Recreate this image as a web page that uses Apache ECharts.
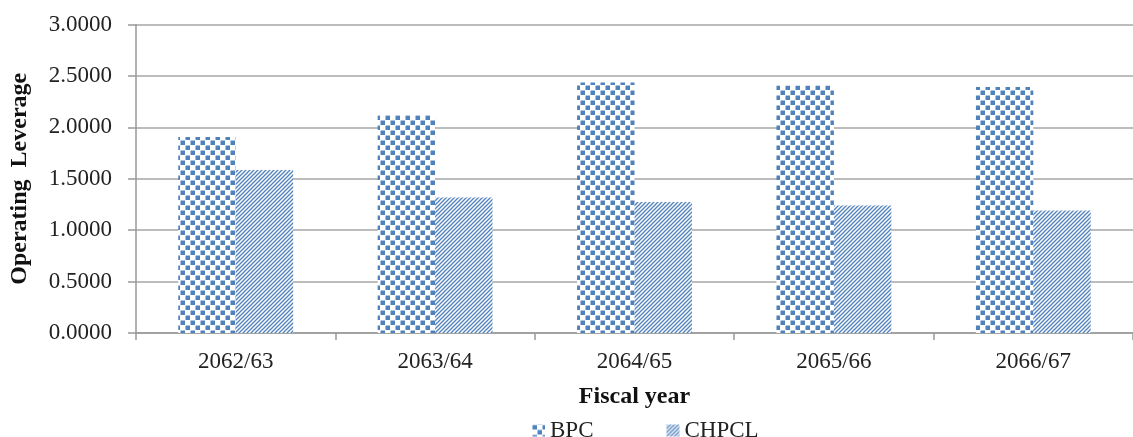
<!DOCTYPE html>
<html>
<head>
<meta charset="utf-8">
<script src="https://cdn.jsdelivr.net/npm/echarts@6/dist/echarts.min.js"></script>
<style>
html,body{margin:0;padding:0;background:#fff;}
#chart{width:1133px;height:437px;}
</style>
</head>
<body>
<div id="chart"></div>
<script>
const categories = ['2062/63', '2063/64', '2064/65', '2065/66', '2066/67'];
const bpcValues = [1.905, 2.118, 2.436, 2.407, 2.393];
const chpclValues = [1.585, 1.317, 1.273, 1.240, 1.192];
const yTicks = { min: 0, max: 3, interval: 0.5 };

const BLUE = '#4f81bd';

function checkerPattern() {
  const c = document.createElement('canvas');
  c.width = 10; c.height = 10;
  const g = c.getContext('2d');
  g.fillStyle = '#ffffff';
  g.fillRect(0, 0, 10, 10);
  g.fillStyle = BLUE;
  g.fillRect(0.5, 0.5, 4.5, 4.5);
  g.fillRect(5.5, 5.5, 4.5, 4.5);
  return c;
}
function stripePattern() {
  const c = document.createElement('canvas');
  c.width = 4; c.height = 4;
  const g = c.getContext('2d');
  g.fillStyle = '#ffffff';
  g.fillRect(0, 0, 4, 4);
  g.strokeStyle = BLUE;
  g.lineWidth = 1.3;
  g.beginPath();
  g.moveTo(-1, 5); g.lineTo(5, -1);
  g.moveTo(-1, 1); g.lineTo(1, -1);
  g.moveTo(3, 5); g.lineTo(5, 3);
  g.stroke();
  return c;
}

const chart = echarts.init(document.getElementById('chart'));
const serif = '"Liberation Serif", "Times New Roman", serif';

chart.setOption({
  backgroundColor: '#ffffff',
  animation: false,
  grid: { left: 136, right: 0, top: 24.5, bottom: 104, containLabel: false, outerBoundsMode: 'none' },
  legend: {
    left: 532, top: 419,
    itemWidth: 13, itemHeight: 12, itemGap: 73,
    icon: 'rect',
    padding: 0,
    textStyle: { fontFamily: serif, fontSize: 23, color: '#222' },
    data: ['BPC', 'CHPCL']
  },
  xAxis: {
    type: 'category',
    data: categories,
    name: 'Fiscal year',
    nameLocation: 'middle',
    nameGap: 52,
    nameTextStyle: { fontFamily: serif, fontSize: 24, fontWeight: 'bold', color: '#111' },
    axisLine: { lineStyle: { color: '#999', width: 1.5 } },
    axisTick: { show: true, length: 7, lineStyle: { color: '#999', width: 1.5 } },
    axisLabel: { fontFamily: serif, fontSize: 23, color: '#222', margin: 17 }
  },
  yAxis: {
    type: 'value',
    min: yTicks.min, max: yTicks.max, interval: yTicks.interval,
    name: 'Operating  Leverage',
    nameLocation: 'middle',
    nameGap: 104,
    nameRotate: 90,
    nameTextStyle: { fontFamily: serif, fontSize: 24, fontWeight: 'bold', color: '#111' },
    axisLine: { show: true, lineStyle: { color: '#999', width: 1.5 } },
    axisTick: { show: true, length: 8, lineStyle: { color: '#999', width: 1.5 } },
    splitLine: { show: true, lineStyle: { color: '#a6a6a6', width: 1.5 } },
    axisLabel: {
      fontFamily: serif, fontSize: 23, color: '#222', margin: 24,
      formatter: v => v.toFixed(4)
    }
  },
  series: [
    {
      name: 'BPC', type: 'bar', data: bpcValues,
      barWidth: '28.8%', barGap: '0%',
      itemStyle: { color: { image: checkerPattern(), repeat: 'repeat' } }
    },
    {
      name: 'CHPCL', type: 'bar', data: chpclValues,
      barWidth: '28.8%', barGap: '0%',
      itemStyle: { color: { image: stripePattern(), repeat: 'repeat' } }
    }
  ]
});
</script>
</body>
</html>
